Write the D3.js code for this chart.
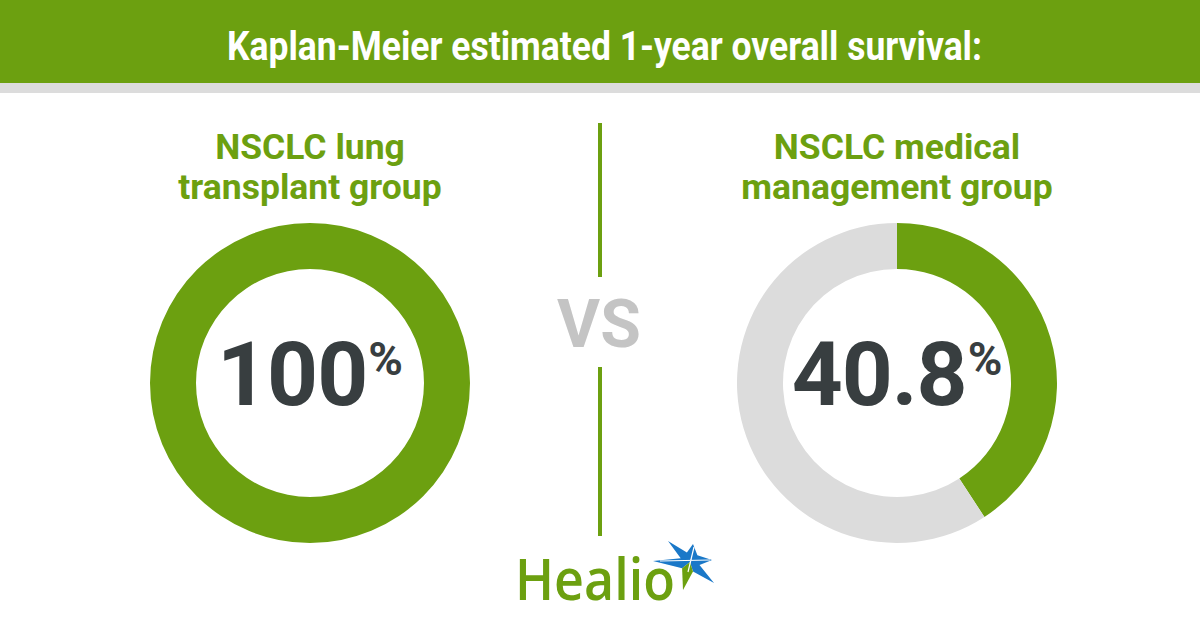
<!DOCTYPE html>
<html>
<head>
<meta charset="utf-8">
<script src="https://cdn.jsdelivr.net/npm/d3@7"></script>
<style>
  body { margin: 0; background: #fff; }
  svg { display: block; font-family: Roboto, "Noto Sans", sans-serif; }
</style>
</head>
<body>
<svg id="chart" width="1200" height="630"></svg>
<script>
// data
var title = "Kaplan-Meier estimated 1-year overall survival:";
var groups = ["transplant", "medical"];
var groupLines = [["NSCLC lung", "transplant group"], ["NSCLC medical", "management group"]];
var survival = [100, 40.8];
var valueLabels = ["100", "40.8"];

var green = "#6ca010";
var track = "#dcdcdc";
var dark = "#383e40";

var svg = d3.select("#chart");

// header band
svg.append("rect").attr("x", 0).attr("y", 0).attr("width", 1200).attr("height", 83).attr("fill", green);
svg.append("rect").attr("x", 0).attr("y", 83).attr("width", 1200).attr("height", 10).attr("fill", "#dcdcdc");
svg.append("text")
    .attr("x", 604.5).attr("y", 60)
    .attr("text-anchor", "middle")
    .attr("font-size", 40).attr("font-weight", 700)
    .attr("fill", "#fff")
    .attr("textLength", 755).attr("lengthAdjust", "spacingAndGlyphs")
    .text(title);

var x = d3.scaleOrdinal().domain(groups).range([310, 897]);
var cy = 383;

var arc = d3.arc().innerRadius(114).outerRadius(160);
var pie = d3.pie().sort(null).value(function(d) { return d; });

groups.forEach(function(g, i) {
    var cx = x(g);

    var head = svg.append("text")
        .attr("text-anchor", "middle")
        .attr("font-size", 35.5).attr("font-weight", 700)
        .attr("fill", green);
    groupLines[i].forEach(function(line, j) {
        head.append("tspan").attr("x", cx).attr("y", 159 + j * 40).text(line);
    });

    var donut = svg.append("g").attr("transform", "translate(" + cx + "," + cy + ")");
    donut.selectAll("path")
        .data(pie([survival[i], 100 - survival[i]]))
        .enter().append("path")
            .attr("d", arc)
            .attr("fill", function(d, k) { return k === 0 ? green : track; });

    var lbl = donut.append("text")
        .attr("y", 22)
        .attr("font-weight", 700)
        .attr("fill", dark);
    lbl.append("tspan").attr("font-size", 89).attr("letter-spacing", -1).text(valueLabels[i]);
    lbl.append("tspan").attr("font-size", 47).attr("dx", 1).attr("dy", -30).text("%");
    var bb = lbl.node().getBBox();
    lbl.attr("x", -bb.width / 2);
});

// divider + vs
svg.append("line").attr("x1", 600).attr("x2", 600).attr("y1", 123).attr("y2", 277)
    .attr("stroke", green).attr("stroke-width", 4);
svg.append("line").attr("x1", 600).attr("x2", 600).attr("y1", 367).attr("y2", 536)
    .attr("stroke", green).attr("stroke-width", 4);
svg.append("text")
    .attr("x", 599).attr("y", 347)
    .attr("text-anchor", "middle")
    .attr("font-size", 66).attr("font-weight", 700)
    .attr("fill", "#c4c4c4")
    .text("VS");

// logo
svg.append("text")
    .attr("x", 515).attr("y", 600)
    .attr("font-family", "'Open Sans', sans-serif")
    .attr("font-size", 57).attr("font-weight", 600)
    .attr("fill", green)
    .attr("textLength", 160).attr("lengthAdjust", "spacingAndGlyphs")
    .text("Healio");

var star = svg.append("g");
star.append("path")
    .attr("d", "M653,561 L680.7,558.3 L668,541 L686.9,552.5 L693,544 L697.4,555.2 L712,560 L699.5,565.1 L714,583 L693,571.5 L690,562 L682.1,568.2 Z")
    .attr("fill", "#1a78c8");
star.append("path")
    .attr("d", "M693,571.5 L683,590 L682.1,568.2 L690,562 Z")
    .attr("fill", green);
star.append("path")
    .attr("d", "M694,547 L688,572 M660,561 L710,560")
    .attr("stroke", "#fff").attr("stroke-width", 1.2);
</script>
</body>
</html>
